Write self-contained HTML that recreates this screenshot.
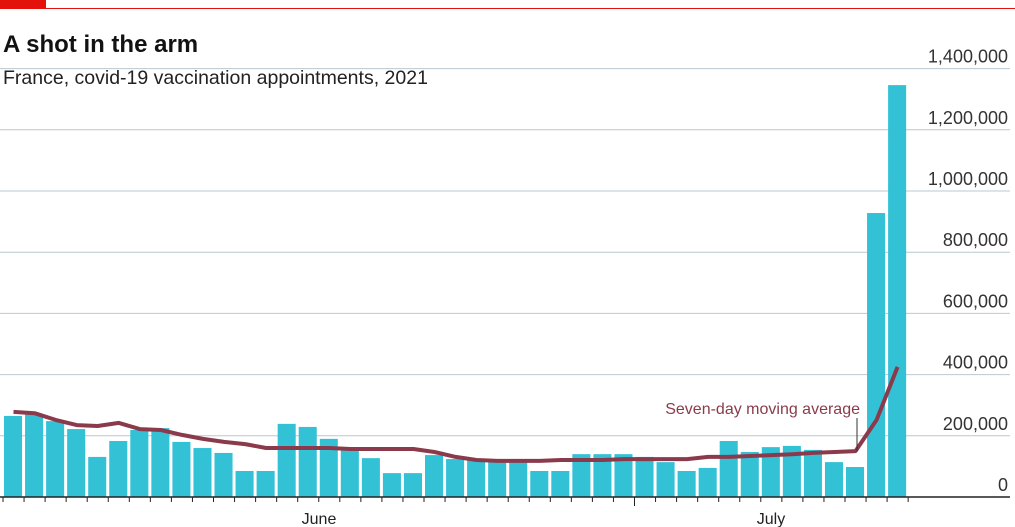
<!DOCTYPE html>
<html><head><meta charset="utf-8"><style>
html,body{margin:0;padding:0;background:#fff;}
svg{display:block;font-family:"Liberation Sans",sans-serif;}
</style></head><body>
<svg id="chart" width="1015" height="527" viewBox="0 0 1015 527">
<rect x="0" y="0" width="46" height="9" fill="#e3120b"/>
<line x1="46" y1="8.5" x2="1015" y2="8.5" stroke="#e3120b" stroke-width="1"/>
<text x="3" y="52" font-size="24" font-weight="bold" fill="#121212">A shot in the arm</text>
<text x="3" y="84" font-size="19.5" fill="#222">France, covid-19 vaccination appointments, 2021</text>
<g id="grid"></g>
<g id="bars"></g>
<g id="axis"></g>
<path id="ma" fill="none" stroke="#8b3a4b" stroke-width="4" stroke-linejoin="round"/>
<line x1="857" y1="418" x2="857" y2="451" stroke="#333" stroke-width="1"/>
<text x="860" y="414" text-anchor="end" font-size="16" fill="#8b3a4b">Seven-day moving average</text>
<text x="319" y="524" text-anchor="middle" font-size="16" fill="#222">June</text>
<text x="771" y="524" text-anchor="middle" font-size="16" fill="#222">July</text>
</svg>
<script>
const values=[265,271,248,222,131,183,219,225,180,160,144,85,85,239,229,190,160,127,78,78,137,124,124,124,114,85,85,140,140,140,131,114,85,95,183,147,163,167,154,114,98,928,1346];
const movingAvg=[278,274,252,235,232,242,222,219,203,190,180,173,160,160,160,160,157,157,157,157,147,131,121,118,118,118,121,121,121,124,124,124,124,131,131,134,137,140,144,147,150,252,425];
const yTicks=[0,200,400,600,800,1000,1200,1400];
const yTickLabels=["0","200,000","400,000","600,000","800,000","1,000,000","1,200,000","1,400,000"];
const NS="http://www.w3.org/2000/svg";
const x0=3,pitch=21.05,base=497,pxPer=61.2/200;
const y=v=>base-v*pxPer;
const x=i=>x0+i*pitch;
const grid=document.getElementById('grid');
yTicks.forEach((t,i)=>{
  if(t>0){const l=document.createElementNS(NS,'line');
  l.setAttribute('x1',0);l.setAttribute('x2',1010);l.setAttribute('y1',y(t));l.setAttribute('y2',y(t));
  l.setAttribute('stroke','#b9c8d2');l.setAttribute('stroke-width','1');
  
  
  grid.appendChild(l);}
  const tx=document.createElementNS(NS,'text');
  tx.setAttribute('x',1008);tx.setAttribute('y',y(t)-6);tx.setAttribute('text-anchor','end');
  tx.setAttribute('font-size','18');tx.setAttribute('fill','#333');
  tx.textContent=yTickLabels[i];
  
  
  grid.appendChild(tx);
});
const bars=document.getElementById('bars');
values.forEach((v,i)=>{
  const r=document.createElementNS(NS,'rect');
  r.setAttribute('x',x(i)+1);r.setAttribute('width',pitch-3);
  r.setAttribute('y',y(v));r.setAttribute('height',base-y(v));
  r.setAttribute('fill','#33c1d6');
  
  
  bars.appendChild(r);
});
const axis=document.getElementById('axis');
const bl=document.createElementNS(NS,'line');
bl.setAttribute('x1',0);bl.setAttribute('x2',1010);bl.setAttribute('y1',base);bl.setAttribute('y2',base);
bl.setAttribute('stroke','#222');bl.setAttribute('stroke-width','1.5');


axis.appendChild(bl);
for(let i=0;i<=values.length;i++){
  const t=document.createElementNS(NS,'line');
  const xx=x(i);
  t.setAttribute('x1',xx);t.setAttribute('x2',xx);t.setAttribute('y1',base);t.setAttribute('y2',i===30?506:502);
  t.setAttribute('stroke','#222');t.setAttribute('stroke-width','1');
  
  
  axis.appendChild(t);
}
let d='';
movingAvg.forEach((v,i)=>{d+=(i?'L':'M')+(x(i)+pitch/2).toFixed(1)+','+y(v).toFixed(1);});
document.getElementById('ma').setAttribute('d',d);
</script>
</body></html>
